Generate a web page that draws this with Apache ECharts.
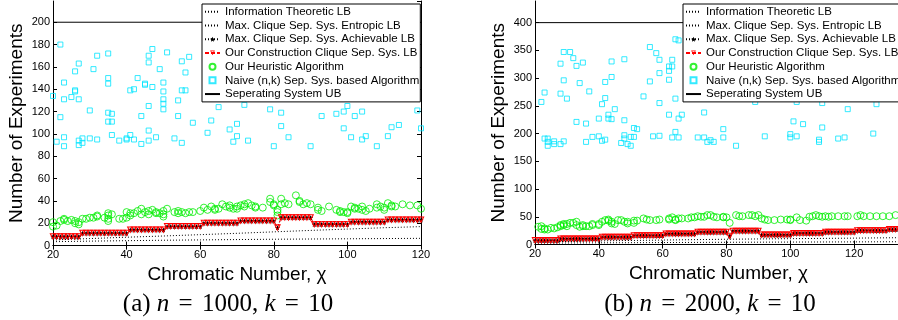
<!DOCTYPE html>
<html><head><meta charset="utf-8">
<script src="https://cdn.jsdelivr.net/npm/echarts@6/dist/echarts.min.js"></script>
<style>html,body{margin:0;padding:0;background:#fff}#c{width:898px;height:320px}</style>
</head><body><div id="c"></div>
<script>
const seriesNames = ['Information Theoretic LB','Max. Clique Sep. Sys. Entropic LB','Max. Clique Sep. Sys. Achievable LB','Our Construction Clique Sep. Sys. LB','Our Heuristic Algorithm','Naive (n,k) Sep. Sys. based Algorithm','Seperating System UB'];
const captionA = '(a) {i|n} {eq|=} 1000, {i|k} {eq|=} 10';
const captionB = '(b) {i|n} {eq|=} 2000, {i|k} {eq|=} 10';
const xNameText = 'Chromatic Number, χ';
const yNameText = 'Number of Experiments';

// ---------- panel (a) n=1000 ----------
const chiA = [20,21,22,23,24,25,26,27,28,29,30,31,32,33,34,35,36,37,38,39,40,41,42,43,44,45,46,47,48,49,50,51,52,53,54,55,56,57,58,59,60,61,62,63,64,65,66,67,68,69,70,71,72,73,74,75,76,77,78,79,80,81,82,83,84,85,86,87,88,89,90,91,92,93,94,95,96,97,98,99,100,101,102,103,104,105,106,107,108,109,110,111,112,113,114,115,116,117,118,119,120];
const constructionA = [8,8,8,8,8,8,8,8,
 11,11,11,11,11,11,11,11,11,11,11,11,11,
 14,14,14,14,14,14,14,14,14,14,
 17,17,17,17,17,17,17,17,17,17,
 20,20,20,20,20,20,20,20,20,20,
 22,22,22,22,22,22,22,22,22,22,
 16,
 25,25,25,25,25,25,25,25,25,
 19,19,19,19,19,19,19,19,19,19,
 21,21,21,21,21,21,21,21,21,21,
 23,23,23,23,23,23,23,23,23,23];
const achievableA = [8,8,8,8,8,8,8,8,
 11,11,11,11,11,11,11,11,11,11,11,11,11,
 14,14,14,14,14,14,14,14,14,14,
 17,17,17,17,17,17,17,17,17,17,
 20,20,20,20,20,20,20,20,20,20,
 22,22,22,22,22,22,22,22,22,22,
 16,
 25,25,25,25,25,25,25,25,25,
 19,19,19,19,19,19,19,19,19,19,
 21,21,21,21,21,21,21,21,21,21,
 23,23,23,23,23,23,23,23,23,23];
const lbChiA = [20,30,40,50,60,70,80,90,100,110,120];
const infoLBA = [3.5,4.0,4.4,4.8,5.1,5.4,5.7,5.9,6.1,6.3,6.5];
const entropicLBA = [5.0,6.3,7.5,8.6,9.8,11.0,12.3,13.6,14.8,16.0,17.0];
const ubChiA = [20,120];
const ubA = [200,200];
const heuristicA = [[20,21],[20,17],[21,18],[22,22],[23,23],[23,24],[24,22],[25,23],[26,22],[26,20],[27,21],[27,19],[28,24],[29,24],[30,25],[31,25],[32,26],[32,27],[34,25],[35,27],[35,24],[35,29],[35,22],[36,28],[38,24],[39,24],[40,25],[40,30],[41,27],[41,29],[42,29],[43,31],[44,28],[44,33],[45,30],[46,31],[46,28],[47,32],[48,30],[48,29],[49,29],[50,26],[50,31],[50,28],[51,33],[53,30],[54,31],[54,29],[55,30],[56,29],[57,30],[58,30],[60,31],[61,34],[62,32],[63,35],[64,33],[64,32],[65,33],[66,37],[67,35],[68,34],[68,36],[69,33],[70,35],[70,33],[71,36],[72,37],[72,35],[73,38],[74,36],[75,35],[75,34],[77,34],[79,42],[79,39],[80,37],[80,36],[81,30],[81,27],[81,32],[82,42],[82,37],[83,38],[84,37],[86,45],[87,39],[87,40],[88,37],[89,38],[90,37],[92,34],[92,32],[93,31],[95,35],[97,32],[98,31],[98,30],[99,30],[100,29],[100,30],[101,35],[102,33],[102,34],[103,33],[104,35],[104,32],[105,31],[106,33],[108,37],[108,34],[109,35],[110,32],[110,34],[111,38],[112,36],[112,35],[113,35],[115,37],[117,36],[119,36],[120,33]];
const naiveA = [[20,134],[21,93],[22,180],[22,115],[23,146],[23,131],[23,97],[23,89],[25,133],[26,156],[26,139],[26,138],[27,163],[27,131],[27,94],[27,90],[28,96],[28,92],[30,121],[30,96],[31,158],[32,170],[32,95],[35,172],[35,150],[35,145],[35,119],[35,111],[36,118],[36,111],[36,99],[38,94],[40,96],[40,95],[41,139],[41,99],[42,140],[42,95],[43,150],[44,116],[44,91],[45,145],[45,144],[46,170],[46,164],[46,125],[46,103],[46,94],[47,176],[47,142],[48,97],[49,158],[50,146],[50,138],[50,131],[50,127],[50,122],[51,173],[53,96],[54,130],[54,116],[55,165],[55,139],[55,92],[56,155],[56,139],[57,169],[58,110],[62,101],[63,112],[65,124],[68,104],[69,93],[70,109],[70,98],[72,126],[73,94],[79,122],[80,89],[82,119],[82,107],[84,97],[90,89],[93,116],[97,118],[99,120],[99,105],[100,125],[101,97],[102,116],[104,120],[104,95],[105,98],[108,89],[111,98],[112,106],[114,108],[119,121],[120,105]];

// ---------- panel (b) n=2000 ----------
const chiB = [20,21,22,23,24,25,26,27,28,29,30,31,32,33,34,35,36,37,38,39,40,41,42,43,44,45,46,47,48,49,50,51,52,53,54,55,56,57,58,59,60,61,62,63,64,65,66,67,68,69,70,71,72,73,74,75,76,77,78,79,80,81,82,83,84,85,86,87,88,89,90,91,92,93,94,95,96,97,98,99,100,101,102,103,104,105,106,107,108,109,110,111,112,113,114,115,116,117,118,119,120,121,122,123,124,125,126,127,128,129,130,131,132,133,134,135];
const constructionB = [7,7,7,7,7,7,7,7,
 10,10,10,10,10,10,10,10,10,10,10,10,10,
 13,13,13,13,13,13,13,13,13,13,
 16,16,16,16,16,16,16,16,16,16,
 19,19,19,19,19,19,19,19,19,19,
 22,22,22,22,22,22,22,22,22,22,
 15,
 24,24,24,24,24,24,24,24,24,
 17,17,17,17,17,17,17,17,17,17,
 20,20,20,20,20,20,20,20,20,20,
 22,22,22,22,22,22,22,22,22,22,
 25,25,25,25,25,25,25,25,25,25,
 27,27,27,27,27];
const achievableB = [7,7,7,7,7,7,7,7,
 10,10,10,10,10,10,10,10,10,10,10,10,10,
 13,13,13,13,13,13,13,13,13,13,
 16,16,16,16,16,16,16,16,16,16,
 19,19,19,19,19,19,19,19,19,19,
 22,22,22,22,22,22,22,22,22,22,
 15,
 24,24,24,24,24,24,24,24,24,
 17,17,17,17,17,17,17,17,17,17,
 20,20,20,20,20,20,20,20,20,20,
 22,22,22,22,22,22,22,22,22,22,
 25,25,25,25,25,25,25,25,25,25,
 27,27,27,27,27];
const lbChiB = [20,40,60,80,100,120,135];
const infoLBB = [2.5,3.0,3.5,4.0,4.4,4.7,5.0];
const entropicLBB = [4.5,6.5,8.0,9.5,10.5,11.5,12.3];
const ubChiB = [20,135];
const ubB = [400,400];
const heuristicB = [[21,32],[22,33],[22,28],[23,29],[23,27],[24,27],[25,30],[26,29],[27,31],[28,33],[28,35],[29,35],[29,37],[30,33],[30,37],[31,39],[32,39],[33,35],[33,41],[34,32],[35,33],[35,35],[36,33],[37,33],[38,35],[38,37],[40,37],[40,35],[41,41],[42,44],[43,43],[43,45],[44,38],[44,41],[45,37],[46,44],[47,44],[48,41],[49,38],[49,41],[51,39],[51,43],[52,43],[54,47],[55,45],[56,44],[58,44],[59,45],[62,45],[62,47],[63,49],[64,44],[64,45],[65,47],[66,47],[68,47],[69,49],[70,49],[71,51],[72,50],[73,50],[74,53],[75,53],[76,50],[77,49],[79,50],[79,49],[80,49],[81,39],[83,53],[84,51],[85,51],[87,53],[88,53],[89,51],[90,53],[91,47],[92,45],[93,44],[95,44],[97,45],[99,45],[100,45],[100,44],[102,49],[103,44],[105,43],[106,50],[107,51],[108,53],[109,51],[110,50],[111,51],[112,50],[113,51],[115,51],[117,51],[118,51],[121,51],[122,53],[123,51],[125,51],[127,51],[129,51],[131,51],[133,53],[135,55]];
const naiveB = [[22,257],[23,274],[23,191],[24,185],[24,178],[24,191],[26,186],[26,181],[28,326],[28,272],[28,181],[29,347],[29,296],[29,186],[30,263],[31,347],[32,336],[33,322],[33,221],[34,291],[35,328],[36,185],[36,218],[37,276],[38,194],[40,227],[40,195],[41,253],[41,187],[42,293],[42,264],[42,189],[43,234],[43,227],[44,330],[44,302],[44,226],[45,244],[47,183],[48,334],[48,224],[48,197],[48,191],[49,181],[50,194],[50,178],[51,210],[51,194],[52,208],[54,267],[56,356],[56,294],[57,195],[58,345],[59,333],[59,309],[59,255],[59,196],[62,321],[62,313],[62,297],[62,234],[63,333],[63,321],[63,193],[64,263],[64,203],[64,370],[65,368],[65,227],[65,193],[66,234],[71,193],[73,193],[73,238],[74,185],[75,188],[76,185],[79,208],[79,193],[83,178],[89,257],[92,195],[100,199],[100,193],[101,222],[102,195],[102,257],[104,217],[109,189],[109,185],[110,211],[110,255],[115,191],[117,193],[118,244],[126,200],[127,253]];

// ---------- build ----------
const FONT = 'Liberation Sans, Arial, Helvetica, sans-serif';
const SERIF = 'Liberation Serif, Times New Roman, serif';
const BLACK = '#000';
const CLEAR = 'rgba(0,0,0,0)';
const zip = (xs, ys) => xs.map((x, i) => [x, ys[i]]);
const STAR = 'path://M0,-10L2.9,-4L9.5,-3.1L4.8,1.5L5.9,8.1L0,5L-5.9,8.1L-4.8,1.5L-9.5,-3.1L-2.9,-4Z';
const TRI_DOWN = 'path://M0,0L10,0L5,10ZM2.4,1.4L5,6.7L7.6,1.4Z';
const SQUARE = 'path://M0,0H10V10H0Z';

function xAxes(gi, min, max, name, hideMax) {
  const base = {gridIndex: gi, type: 'value', min, max, interval: 20,
    axisLine: {show: true, lineStyle: {color: BLACK, width: 1}},
    axisTick: {show: true, inside: true, length: 4, lineStyle: {color: BLACK}},
    splitLine: {show: false}};
  return [
    Object.assign({}, base, {position: 'bottom',
      axisLabel: {margin: 4, fontSize: 11, fontFamily: FONT, color: BLACK, showMaxLabel: !hideMax},
      name, nameLocation: 'middle', nameGap: 9,
      nameTextStyle: {fontSize: 19, fontFamily: FONT, color: BLACK}}),
    Object.assign({}, base, {position: 'top', axisLabel: {show: false}})
  ];
}
function yAxes(gi, max, interval, name) {
  const base = {gridIndex: gi, type: 'value', min: 0, max, interval,
    axisLine: {show: true, lineStyle: {color: BLACK, width: 1}},
    axisTick: {show: true, inside: true, length: 4, lineStyle: {color: BLACK}},
    splitLine: {show: false}};
  return [
    Object.assign({}, base, {position: 'left',
      axisLabel: {margin: 3, fontSize: 11, fontFamily: FONT, color: BLACK, showMaxLabel: false},
      name, nameLocation: 'middle', nameGap: 27,
      nameTextStyle: {fontSize: 19, fontFamily: FONT, color: BLACK}}),
    Object.assign({}, base, {position: 'right', axisLabel: {show: false}})
  ];
}
function panelSeries(ax, d) {
  return [
    {type: 'line', name: seriesNames[0], xAxisIndex: ax, yAxisIndex: ax, data: zip(d.lbChi, d.info),
      symbol: 'none', lineStyle: {color: BLACK, width: 1, type: [1, 2]}, itemStyle: {color: CLEAR}},
    {type: 'line', name: seriesNames[1], xAxisIndex: ax, yAxisIndex: ax, data: zip(d.lbChi, d.entropic),
      symbol: 'none', lineStyle: {color: BLACK, width: 1, type: [1, 2]}, itemStyle: {color: CLEAR}},
    {type: 'line', name: seriesNames[2], xAxisIndex: ax, yAxisIndex: ax, data: zip(d.chi, d.achievable),
      symbol: STAR, symbolSize: 5, showSymbol: true,
      lineStyle: {color: BLACK, width: 1, type: [1, 2]}, itemStyle: {color: BLACK}},
    {type: 'line', name: seriesNames[3], xAxisIndex: ax, yAxisIndex: ax, data: zip(d.chi, d.construction),
      symbol: TRI_DOWN, symbolSize: 7, showSymbol: true,
      lineStyle: {color: '#ff0000', width: 1, type: [4, 2]},
      itemStyle: {color: '#ff0000'}},
    {type: 'scatter', name: seriesNames[4], xAxisIndex: ax, yAxisIndex: ax, data: d.heuristic,
      symbol: 'circle', symbolSize: 7,
      itemStyle: {color: CLEAR, borderColor: '#00ee00', borderWidth: 1}},
    {type: 'scatter', name: seriesNames[5], xAxisIndex: ax, yAxisIndex: ax, data: d.naive,
      symbol: 'rect', symbolSize: 5,
      itemStyle: {color: CLEAR, borderColor: '#00e5ff', borderWidth: 1}},
    {type: 'line', name: seriesNames[6], xAxisIndex: ax, yAxisIndex: ax, data: zip(d.ubChi, d.ub),
      symbol: 'none', lineStyle: {color: BLACK, width: 1}, itemStyle: {color: CLEAR}}
  ];
}
function legendAt(left) {
  const data = seriesNames.map((n, i) => i === 5 ? {name: n, icon: SQUARE} : n);
  return {data, left, top: 4, orient: 'vertical', selectedMode: false,
    backgroundColor: '#fff', borderColor: BLACK, borderWidth: 1, padding: [1, 1, 1, 2],
    itemGap: 0, itemWidth: 15, itemHeight: 6,
    textStyle: {fontSize: 11.5, fontFamily: FONT, color: BLACK, lineHeight: 13.7}};
}

const option = {
  animation: false,
  backgroundColor: '#fff',
  grid: [
    {left: 53, top: 1, width: 368, height: 244.6, outerBoundsMode: 'none', containLabel: false},
    {left: 535, top: 1, width: 367, height: 243.5, outerBoundsMode: 'none', containLabel: false}
  ],
  xAxis: [...xAxes(0, 20, 120, xNameText, false), ...xAxes(1, 20, 135, xNameText, true)],
  yAxis: [...yAxes(0, 219, 20, yNameText), ...yAxes(1, 439, 50, yNameText)],
  legend: [legendAt(202), legendAt(683)],
  series: [
    ...panelSeries(0, {chi: chiA, construction: constructionA, achievable: achievableA, lbChi: lbChiA,
      info: infoLBA, entropic: entropicLBA, heuristic: heuristicA, naive: naiveA, ubChi: ubChiA, ub: ubA}),
    ...panelSeries(2, {chi: chiB, construction: constructionB, achievable: achievableB, lbChi: lbChiB,
      info: infoLBB, entropic: entropicLBB, heuristic: heuristicB, naive: naiveB, ubChi: ubChiB, ub: ubB})
  ],
  graphic: [
    {type: 'text', style: {text: captionA, x: 228, y: 304, align: 'center', verticalAlign: 'middle',
      fontSize: 25, fontFamily: SERIF, fill: BLACK,
      rich: {i: {fontStyle: 'italic', fontSize: 25, fontFamily: SERIF},
             eq: {fontSize: 25, fontFamily: SERIF, padding: [0, 3, 0, 3]}}}},
    {type: 'text', style: {text: captionB, x: 710, y: 304, align: 'center', verticalAlign: 'middle',
      fontSize: 25, fontFamily: SERIF, fill: BLACK,
      rich: {i: {fontStyle: 'italic', fontSize: 25, fontFamily: SERIF},
             eq: {fontSize: 25, fontFamily: SERIF, padding: [0, 3, 0, 3]}}}}
  ]
};
const chart = echarts.init(document.getElementById('c'), null, {renderer: 'canvas'});
chart.setOption(option);
</script></body></html>
